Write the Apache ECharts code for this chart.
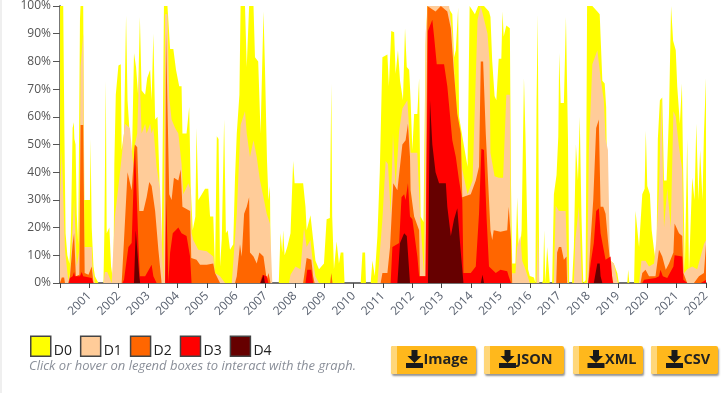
<!DOCTYPE html>
<html><head><meta charset="utf-8">
<script src="https://cdn.jsdelivr.net/npm/echarts@6/dist/echarts.min.js"></script>
<style>html,body{margin:0;padding:0;background:#fff;overflow:hidden}
#strip{position:absolute;left:0;top:0;width:2px;height:393px;background:#efefef}
#c{position:absolute;left:0;top:0;width:721px;height:393px}</style></head>
<body><div id="c"></div><div id="strip"></div>
<script>
const yearLabels = ['2001','2002','2003','2004','2005','2006','2007','2008','2009','2010','2011','2012','2013','2014','2015','2016','2017','2018','2019','2020','2021','2022'];
const seriesNames = ['D0','D1','D2','D3','D4'];
const seriesColors = ['#FFFF00','#FFCC99','#FF6600','#FF0000','#660000'];
const d0 = [[2000,100],[2000.11,100],[2000.15,54],[2000.19,18],[2000.25,10],[2000.32,7],[2000.37,18],[2000.43,56],[2000.47,58],[2000.49,52],[2000.53,50],[2000.57,25],[2000.62,14],[2000.68,95],[2000.70,100],[2000.79,100],[2000.83,30],[2001.02,30],[2001.04,52],[2001.08,20],[2001.14,6],[2001.19,2.4],[2001.31,0],[2001.48,0],[2001.51,18],[2001.56,73],[2001.59,18],[2001.68,20],[2001.74,6],[2001.82,0],[2001.85,43],[2001.90,68],[2001.99,78.5],[2002.07,79],[2002.10,48],[2002.18,54],[2002.25,96.5],[2002.30,66],[2002.36,56],[2002.44,40],[2002.52,83],[2002.59,78],[2002.66,68],[2002.72,96],[2002.78,69.5],[2002.90,68],[2002.97,74],[2003.07,77],[2003.12,66],[2003.18,90],[2003.24,59],[2003.32,60],[2003.38,40],[2003.46,8],[2003.54,100],[2003.66,100],[2003.75,84.5],[2003.86,84.5],[2003.95,77],[2004.06,71],[2004.14,71],[2004.17,54],[2004.31,54],[2004.40,63.5],[2004.45,35],[2004.52,19],[2004.61,24],[2004.65,56],[2004.71,30],[2004.83,32],[2004.94,34],[2005.05,34],[2005.11,24],[2005.22,24],[2005.28,5],[2005.34,53],[2005.40,52],[2005.45,6],[2005.51,16],[2005.59,59],[2005.65,18],[2005.71,19],[2005.79,12],[2005.90,14],[2005.96,38],[2006.02,54],[2006.11,68],[2006.15,100],[2006.30,100],[2006.36,78],[2006.44,100],[2006.59,100],[2006.64,81.5],[2006.75,80],[2006.83,54],[2006.93,98],[2006.98,78],[2007.05,44],[2007.10,30],[2007.15,35],[2007.18,0],[2007.45,0],[2007.51,18],[2007.57,11],[2007.60,19],[2007.65,10],[2007.74,13],[2007.80,13],[2007.85,18],[2007.94,44],[2007.99,36],[2008.28,36],[2008.36,27.5],[2008.40,19],[2008.53,24.5],[2008.59,24],[2008.70,8],[2008.82,5],[2008.99,7],[2009.08,23],[2009.19,23.5],[2009.24,72],[2009.27,24],[2009.33,5],[2009.42,15],[2009.50,7],[2009.56,11],[2009.65,11],[2009.69,0],[2010.24,0],[2010.30,11],[2010.39,11],[2010.42,0],[2010.58,0],[2010.64,8],[2010.72,2.5],[2010.81,17],[2010.89,40],[2010.98,81.5],[2011.15,82.5],[2011.20,71],[2011.28,91],[2011.38,90.5],[2011.43,75.5],[2011.51,84],[2011.58,73],[2011.68,66],[2011.75,92],[2011.81,78],[2011.89,77],[2011.94,66],[2012.00,48],[2012.06,61],[2012.17,61],[2012.23,74],[2012.28,24],[2012.38,22],[2012.45,86],[2012.51,100],[2013.19,100],[2013.36,97],[2013.42,81.5],[2013.48,84],[2013.56,99.5],[2013.59,60],[2013.70,53],[2013.88,42],[2013.95,100],[2014.13,97],[2014.24,100],[2014.44,100],[2014.61,98],[2014.66,96],[2014.72,80],[2014.80,67.5],[2014.86,66],[2014.94,81],[2015.03,81],[2015.07,98],[2015.11,89],[2015.20,93],[2015.32,92],[2015.36,35],[2015.40,7],[2015.51,7],[2015.57,31],[2015.63,8],[2015.72,19],[2015.80,74],[2015.85,54],[2015.91,54],[2015.94,5],[2016.00,2.5],[2016.14,2],[2016.19,0],[2016.23,66],[2016.27,97],[2016.32,0],[2016.42,0],[2016.45,1],[2016.49,19],[2016.53,0],[2016.59,13],[2016.65,12.5],[2016.68,0],[2016.76,0],[2016.82,32],[2016.91,39],[2016.97,53],[2017.00,83],[2017.05,65],[2017.16,65],[2017.23,96],[2017.30,52],[2017.34,0],[2017.44,0],[2017.50,13],[2017.57,50],[2017.64,37],[2017.70,60],[2017.76,24],[2017.82,0],[2017.90,1],[2017.95,100],[2018.13,100],[2018.30,98],[2018.38,97],[2018.47,73],[2018.55,72],[2018.60,63.5],[2018.66,12],[2018.75,8],[2018.86,7],[2018.98,3.5],[2019.03,0],[2019.32,0],[2019.35,4.8],[2019.39,0],[2019.55,0],[2019.60,26],[2019.72,13],[2019.83,32],[2019.91,34],[2019.95,55],[2020.00,35],[2020.09,32],[2020.15,19],[2020.23,12],[2020.31,6],[2020.36,52],[2020.43,66],[2020.51,67],[2020.57,37],[2020.66,37],[2020.74,61],[2020.81,100],[2020.88,87.5],[2020.97,84],[2021.02,71],[2021.11,57.5],[2021.18,72],[2021.22,42],[2021.28,5],[2021.36,52],[2021.42,4],[2021.53,38],[2021.61,30],[2021.67,57.5],[2021.74,30],[2021.80,48],[2021.88,30],[2021.93,54],[2022,74]];
const d1 = [[2000,30],[2000.06,48],[2000.11,48],[2000.17,12],[2000.28,1],[2000.34,3.5],[2000.43,20],[2000.48,30],[2000.57,6],[2000.66,12],[2000.70,78],[2000.79,90],[2000.83,13],[2001.08,13],[2001.11,5],[2001.19,0],[2001.48,0],[2001.53,4],[2001.61,4],[2001.76,0],[2001.82,0],[2001.87,24],[2001.99,35],[2002.10,45.5],[2002.21,57.5],[2002.38,56],[2002.50,42],[2002.55,50],[2002.63,54],[2002.70,78],[2002.78,54],[2002.90,57.5],[2002.95,54],[2003.07,57.5],[2003.12,54],[2003.18,56],[2003.29,42],[2003.41,33.5],[2003.52,0],[2003.58,97],[2003.66,97],[2003.72,67],[2003.80,59],[2003.92,56],[2004.03,54],[2004.14,43],[2004.20,32],[2004.37,36],[2004.45,33.5],[2004.48,18],[2004.54,15.5],[2004.71,12],[2005.00,11.5],[2005.22,9.6],[2005.28,3.6],[2005.45,2.4],[2005.62,0],[2005.85,0],[2006.02,25],[2006.15,57],[2006.30,62],[2006.36,54],[2006.47,45.5],[2006.59,51.5],[2006.70,45.5],[2006.81,37],[2006.93,31],[2007.04,25],[2007.15,21.5],[2007.23,0],[2007.80,0],[2007.85,3],[2008.02,6],[2008.19,5],[2008.31,20],[2008.40,13],[2008.53,15.5],[2008.59,9.6],[2008.70,2.4],[2008.82,0],[2010.81,0],[2010.98,23],[2011.09,44],[2011.17,43],[2011.26,25],[2011.34,54],[2011.43,35],[2011.55,55],[2011.66,63],[2011.83,66],[2011.89,56],[2011.94,47],[2012.17,47],[2012.26,25],[2012.40,2.5],[2012.45,90],[2012.53,100],[2013.25,100],[2013.36,90],[2013.48,66],[2013.59,52],[2013.70,41],[2013.88,32],[2014.05,37],[2014.22,95],[2014.33,100],[2014.56,90],[2014.63,80],[2014.66,47],[2014.80,38.5],[2014.94,38],[2015.09,38],[2015.20,68],[2015.32,68],[2015.36,7],[2015.40,3.5],[2015.51,3.5],[2015.57,13],[2015.68,17],[2015.74,8],[2015.85,5],[2015.94,2],[2016.00,0],[2016.23,0],[2016.27,20],[2016.32,0],[2016.82,0],[2016.88,28],[2016.99,26],[2017.07,26],[2017.22,26],[2017.30,0],[2017.50,0],[2017.55,15.5],[2017.67,27.5],[2017.78,0],[2017.95,0],[2018.01,48],[2018.13,79],[2018.30,84],[2018.41,74],[2018.52,66],[2018.58,52],[2018.66,48],[2018.73,8],[2018.86,7],[2019.00,0],[2019.72,0],[2019.80,8],[2019.94,8],[2020.06,6],[2020.23,7],[2020.31,15.5],[2020.40,34],[2020.48,67],[2020.57,20],[2020.68,34],[2020.80,20],[2020.89,62],[2020.97,60],[2021.08,49],[2021.19,41],[2021.25,3.5],[2021.36,5],[2021.53,6],[2021.70,5],[2021.93,14],[2022,15.5]];
const d2 = [[2000,0],[2000.06,2],[2000.14,2],[2000.17,0],[2000.28,0],[2000.34,2.4],[2000.43,14],[2000.48,18],[2000.54,2.4],[2000.66,3],[2000.70,57],[2000.79,57],[2000.84,3.6],[2000.97,3],[2001.08,6],[2001.14,0],[2002.10,0],[2002.18,15.5],[2002.30,40],[2002.44,33.5],[2002.55,50],[2002.63,49],[2002.70,26],[2002.84,26],[2002.95,31],[2003.04,36.5],[2003.12,35],[2003.24,26],[2003.35,12],[2003.46,0],[2003.58,0],[2003.61,91],[2003.67,91],[2003.72,32],[2003.80,30],[2003.88,38],[2004.03,37],[2004.11,41],[2004.17,27.5],[2004.43,26],[2004.47,9],[2004.65,8.4],[2004.77,6.6],[2005.00,6.6],[2005.22,7],[2005.28,3.6],[2005.45,0],[2005.96,0],[2006.02,2.4],[2006.13,14],[2006.19,9.6],[2006.27,25],[2006.36,27.5],[2006.44,31],[2006.47,11],[2006.59,9.6],[2006.70,7],[2006.79,11],[2006.93,9.6],[2007.04,1.2],[2007.10,3.6],[2007.17,0],[2008.28,0],[2008.36,6],[2008.40,9],[2008.56,8.4],[2008.62,2.4],[2008.67,0],[2009.20,0],[2009.24,3.6],[2009.28,0],[2010.92,0],[2010.98,3.6],[2011.15,3.6],[2011.24,13],[2011.35,36],[2011.49,33.5],[2011.66,50],[2011.77,51.5],[2011.85,57.5],[2011.92,45.5],[2011.94,33.5],[2012.06,24],[2012.23,19],[2012.26,2.4],[2012.45,2.4],[2012.51,100],[2012.79,98],[2012.97,100],[2013.19,98],[2013.31,92],[2013.42,75.5],[2013.53,61],[2013.65,54],[2013.70,31],[2013.99,32],[2014.16,37],[2014.27,42],[2014.33,80],[2014.41,80],[2014.50,54],[2014.61,30],[2014.66,19],[2014.72,15.5],[2014.77,19],[2015.00,18.5],[2015.23,19],[2015.28,27.5],[2015.36,15.5],[2015.40,0],[2016.90,0],[2016.93,11],[2016.99,13],[2017.07,13],[2017.16,8.4],[2017.25,9.6],[2017.27,0],[2017.99,0],[2018.07,15.5],[2018.16,30],[2018.26,56],[2018.35,59],[2018.41,27.5],[2018.50,27.5],[2018.58,25],[2018.66,15.5],[2018.75,6],[2018.84,0],[2019.77,0],[2019.83,3.6],[2019.94,4.8],[2020.06,2.4],[2020.28,2.4],[2020.40,12],[2020.51,9.6],[2020.63,4.8],[2020.74,7],[2020.89,11],[2020.93,21.5],[2021.08,18],[2021.19,17],[2021.23,3.6],[2021.36,0],[2021.59,0],[2021.76,2.4],[2021.93,3.6],[2022,14]];
const d3 = [[2000.30,0],[2000.34,1.8],[2000.43,2.4],[2000.48,4],[2000.51,2.4],[2000.68,2.4],[2000.74,4],[2000.79,2.4],[2001.08,1.8],[2001.14,0],[2002.13,0],[2002.18,1.2],[2002.33,13],[2002.44,14.4],[2002.55,50],[2002.59,50],[2002.67,14.4],[2002.72,2.4],[2002.90,2.4],[2003.12,6.6],[2003.18,2.4],[2003.29,0],[2003.58,0],[2003.62,30],[2003.66,30],[2003.69,0],[2003.75,11],[2003.84,18],[2004.03,20],[2004.14,18],[2004.31,17],[2004.43,9.6],[2004.48,0],[2006.81,0],[2006.90,3],[2007.04,2.4],[2007.10,0],[2008.36,0],[2008.42,4.8],[2008.56,4.8],[2008.62,0],[2011.26,0],[2011.32,13],[2011.55,14.4],[2011.63,31],[2011.72,32],[2011.77,30],[2011.85,36],[2011.92,24],[2012.00,23],[2012.17,9.6],[2012.23,2.4],[2012.45,2.4],[2012.53,91],[2012.68,95],[2012.74,89],[2012.83,79],[2013.08,79],[2013.19,71],[2013.36,51.5],[2013.48,45.5],[2013.59,37],[2013.70,30],[2013.74,3.6],[2013.99,3.6],[2014.16,6],[2014.27,25],[2014.35,48.5],[2014.44,48],[2014.53,23],[2014.61,6],[2014.84,3.6],[2015.00,4.8],[2015.23,4.2],[2015.28,2.4],[2015.36,0],[2017.99,0],[2018.07,7],[2018.18,14.4],[2018.26,26],[2018.35,27],[2018.41,18],[2018.58,8.4],[2018.75,9.6],[2018.81,1.2],[2018.84,0],[2019.83,0],[2019.89,1.2],[2019.94,1.8],[2020.28,1.8],[2020.40,2.4],[2020.45,4.8],[2020.53,2.4],[2020.68,1.8],[2020.89,6],[2020.93,10],[2021.19,9.6],[2021.23,1.2],[2021.36,0],[2021.82,0],[2021.93,0.6],[2022,1.2]];
const d4 = [[2002.52,0],[2002.58,19],[2002.63,19],[2002.70,2.4],[2002.73,0],[2006.83,0],[2006.93,3],[2006.98,0],[2008.49,0],[2008.53,0.6],[2008.57,0],[2011.49,0],[2011.58,14.4],[2011.72,18],[2011.81,17],[2011.92,0],[2012.53,0],[2012.60,66],[2012.68,50],[2012.79,40],[2012.91,36],[2013.14,36],[2013.19,27.5],[2013.31,17],[2013.42,23],[2013.53,27],[2013.65,11],[2013.74,0],[2014.33,0],[2014.39,3],[2014.44,0],[2018.18,0],[2018.24,3.6],[2018.30,7],[2018.38,7],[2018.41,2.4],[2018.47,0],[2018.52,0],[2018.58,0.6],[2018.64,0]];
const seriesData = [d0,d1,d2,d3,d4];
const buttonLabels = ['Image','JSON','XML','CSV'];
const hint = 'Click or hover on legend boxes to interact with the graph.';

const btns = [[391,85,414.5],[484,80,507.5],[573,70,596],[651,67,674.5]];
const graphic = [{type:'text',left:29,top:360,style:{text:hint,font:'italic 13px "Open Sans"',fill:'#8a8f99'}}];
buttonLabels.forEach((t,i)=>{
  const [x,w,ix]=btns[i];
  graphic.push({type:'rect',shape:{x:x,y:346,width:w,height:28,r:2},style:{fill:'#FFB81C',shadowColor:'rgba(60,60,60,.55)',shadowBlur:2,shadowOffsetX:1,shadowOffsetY:2}});
  graphic.push({type:'rect',shape:{x:x,y:346,width:6,height:28,r:[2,0,0,2]},style:{fill:'#FFD77A'}});
  graphic.push({type:'polygon',shape:{points:[[ix-3,350],[ix+3,350],[ix+3,356],[ix+7,356],[ix,363],[ix-7,356],[ix-3,356]]},style:{fill:'#1a1a1a'}});
  graphic.push({type:'rect',shape:{x:ix-8.5,y:363,width:17,height:5},style:{fill:'#1a1a1a'}});
  graphic.push({type:'text',x:ix+9,y:352,style:{text:t,font:'bold 14.5px "Open Sans"',fill:'#222'}});
});

const chart = echarts.init(document.getElementById('c'),null,{renderer:'canvas'});
chart.setOption({
  animation:false,
  grid:{left:60,top:5,right:15,bottom:110,containLabel:false},
  legend:{left:30,top:335.5,padding:0,itemWidth:20,itemHeight:20,itemGap:8,icon:'rect',data:seriesNames,selectedMode:true,
    formatter:n=>'{a|'+n+'}',
    itemStyle:{borderColor:'#444',borderWidth:1.5},
    textStyle:{rich:{a:{fontFamily:'"Open Sans"',fontSize:14,color:'#222',padding:[9,0,0,-2]}}}},
  xAxis:{type:'value',min:2000,max:2022,interval:1,
    splitLine:{show:false},axisLine:{lineStyle:{color:'#444',width:1.5}},axisTick:{length:5,lineStyle:{color:'#444',width:1}},
    axisLabel:{rotate:45,margin:11,padding:[6,0,0,0],fontFamily:'"Open Sans"',fontSize:12,color:'#5a6270',showMinLabel:true,showMaxLabel:true,
      formatter:v=>yearLabels[v-2001]||''}},
  yAxis:{type:'value',min:0,max:100,interval:10,
    splitLine:{show:false},axisLine:{show:true,lineStyle:{color:'#777',width:2}},axisTick:{show:true,length:7,lineStyle:{color:'#555',width:1}},
    axisLabel:{margin:9,fontFamily:'"Open Sans"',fontSize:12,color:'#555',formatter:'{value}%'}},
  graphic:graphic,
  series:seriesNames.map((n,i)=>({name:n,type:'line',data:seriesData[i],z:2+i,showSymbol:false,symbol:'none',
    lineStyle:{width:0},itemStyle:{color:seriesColors[i]},areaStyle:{color:seriesColors[i],opacity:1}}))
});
</script></body></html>
